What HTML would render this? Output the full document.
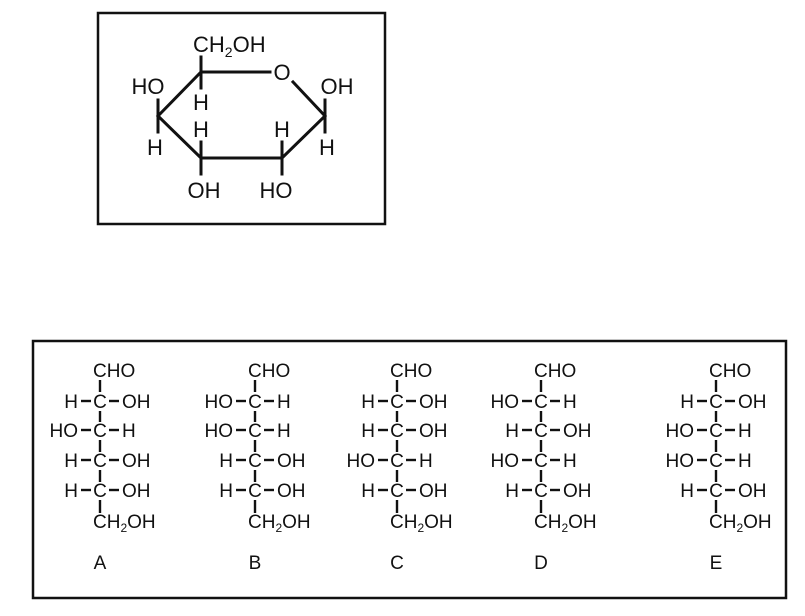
<!DOCTYPE html>
<html><head><meta charset="utf-8"><style>
html,body{margin:0;padding:0;background:#fff;}
svg{display:block;}
text{font-family:"Liberation Sans",Arial,sans-serif;fill:#111;}
</style></head><body>
<svg width="805" height="616" viewBox="0 0 805 616" xmlns="http://www.w3.org/2000/svg">
<rect x="98" y="13" width="287" height="211" fill="none" stroke="#111" stroke-width="2.5"/>
<rect x="33" y="341" width="753" height="257" fill="none" stroke="#111" stroke-width="2.5"/>

<g stroke="#111" stroke-width="3" fill="none" stroke-linecap="square">
<polyline points="270,72 201,72 158,116 201,158 282,158 325,116 293,82"/>
<line x1="201" y1="72" x2="201" y2="57"/>
<line x1="201" y1="72" x2="201" y2="88"/>
<line x1="158" y1="116" x2="158" y2="100"/>
<line x1="158" y1="116" x2="158" y2="132"/>
<line x1="201" y1="158" x2="201" y2="142"/>
<line x1="201" y1="158" x2="201" y2="174"/>
<line x1="282" y1="158" x2="282" y2="142"/>
<line x1="282" y1="158" x2="282" y2="174"/>
<line x1="325" y1="116" x2="325" y2="100"/>
<line x1="325" y1="116" x2="325" y2="132"/>
</g>
<g font-size="22">
<text x="193" y="52">CH<tspan font-size="14" dy="5">2</tspan><tspan dy="-5">OH</tspan></text>
<text x="282" y="80" text-anchor="middle">O</text>
<text x="148" y="94" text-anchor="middle">HO</text>
<text x="201" y="110" text-anchor="middle">H</text>
<text x="155" y="155" text-anchor="middle">H</text>
<text x="201" y="137" text-anchor="middle">H</text>
<text x="282" y="137" text-anchor="middle">H</text>
<text x="204" y="198" text-anchor="middle">OH</text>
<text x="276" y="198" text-anchor="middle">HO</text>
<text x="337" y="94" text-anchor="middle">OH</text>
<text x="327" y="155" text-anchor="middle">H</text>
</g>

<defs>
<g id="vert" stroke="#111" stroke-width="2.4">
<line x1="0" y1="380" x2="0" y2="392"/>
<line x1="0" y1="411" x2="0" y2="422"/>
<line x1="0" y1="440" x2="0" y2="452"/>
<line x1="0" y1="470" x2="0" y2="482"/>
<line x1="0" y1="500" x2="0" y2="513"/>
<line x1="-19" y1="401" x2="-9" y2="401"/><line x1="9" y1="401" x2="19" y2="401"/>
<line x1="-19" y1="430" x2="-9" y2="430"/><line x1="9" y1="430" x2="19" y2="430"/>
<line x1="-19" y1="460" x2="-9" y2="460"/><line x1="9" y1="460" x2="19" y2="460"/>
<line x1="-19" y1="490" x2="-9" y2="490"/><line x1="9" y1="490" x2="19" y2="490"/>
</g>
</defs>

<g font-size="19">
<g transform="translate(100,0)">
<use href="#vert"/>
<text x="-7" y="377">CHO</text>
<text x="0" y="408" text-anchor="middle">C</text><text x="-22" y="408" text-anchor="end">H</text><text x="22" y="408">OH</text>
<text x="0" y="437" text-anchor="middle">C</text><text x="-22" y="437" text-anchor="end">HO</text><text x="22" y="437">H</text>
<text x="0" y="467" text-anchor="middle">C</text><text x="-22" y="467" text-anchor="end">H</text><text x="22" y="467">OH</text>
<text x="0" y="497" text-anchor="middle">C</text><text x="-22" y="497" text-anchor="end">H</text><text x="22" y="497">OH</text>
<text x="-7" y="528">CH<tspan font-size="12" dy="4">2</tspan><tspan dy="-4">OH</tspan></text>
<text x="0" y="569" text-anchor="middle">A</text>
</g>
<g transform="translate(255,0)">
<use href="#vert"/>
<text x="-7" y="377">CHO</text>
<text x="0" y="408" text-anchor="middle">C</text><text x="-22" y="408" text-anchor="end">HO</text><text x="22" y="408">H</text>
<text x="0" y="437" text-anchor="middle">C</text><text x="-22" y="437" text-anchor="end">HO</text><text x="22" y="437">H</text>
<text x="0" y="467" text-anchor="middle">C</text><text x="-22" y="467" text-anchor="end">H</text><text x="22" y="467">OH</text>
<text x="0" y="497" text-anchor="middle">C</text><text x="-22" y="497" text-anchor="end">H</text><text x="22" y="497">OH</text>
<text x="-7" y="528">CH<tspan font-size="12" dy="4">2</tspan><tspan dy="-4">OH</tspan></text>
<text x="0" y="569" text-anchor="middle">B</text>
</g>
<g transform="translate(397,0)">
<use href="#vert"/>
<text x="-7" y="377">CHO</text>
<text x="0" y="408" text-anchor="middle">C</text><text x="-22" y="408" text-anchor="end">H</text><text x="22" y="408">OH</text>
<text x="0" y="437" text-anchor="middle">C</text><text x="-22" y="437" text-anchor="end">H</text><text x="22" y="437">OH</text>
<text x="0" y="467" text-anchor="middle">C</text><text x="-22" y="467" text-anchor="end">HO</text><text x="22" y="467">H</text>
<text x="0" y="497" text-anchor="middle">C</text><text x="-22" y="497" text-anchor="end">H</text><text x="22" y="497">OH</text>
<text x="-7" y="528">CH<tspan font-size="12" dy="4">2</tspan><tspan dy="-4">OH</tspan></text>
<text x="0" y="569" text-anchor="middle">C</text>
</g>
<g transform="translate(541,0)">
<use href="#vert"/>
<text x="-7" y="377">CHO</text>
<text x="0" y="408" text-anchor="middle">C</text><text x="-22" y="408" text-anchor="end">HO</text><text x="22" y="408">H</text>
<text x="0" y="437" text-anchor="middle">C</text><text x="-22" y="437" text-anchor="end">H</text><text x="22" y="437">OH</text>
<text x="0" y="467" text-anchor="middle">C</text><text x="-22" y="467" text-anchor="end">HO</text><text x="22" y="467">H</text>
<text x="0" y="497" text-anchor="middle">C</text><text x="-22" y="497" text-anchor="end">H</text><text x="22" y="497">OH</text>
<text x="-7" y="528">CH<tspan font-size="12" dy="4">2</tspan><tspan dy="-4">OH</tspan></text>
<text x="0" y="569" text-anchor="middle">D</text>
</g>
<g transform="translate(716,0)">
<use href="#vert"/>
<text x="-7" y="377">CHO</text>
<text x="0" y="408" text-anchor="middle">C</text><text x="-22" y="408" text-anchor="end">H</text><text x="22" y="408">OH</text>
<text x="0" y="437" text-anchor="middle">C</text><text x="-22" y="437" text-anchor="end">HO</text><text x="22" y="437">H</text>
<text x="0" y="467" text-anchor="middle">C</text><text x="-22" y="467" text-anchor="end">HO</text><text x="22" y="467">H</text>
<text x="0" y="497" text-anchor="middle">C</text><text x="-22" y="497" text-anchor="end">H</text><text x="22" y="497">OH</text>
<text x="-7" y="528">CH<tspan font-size="12" dy="4">2</tspan><tspan dy="-4">OH</tspan></text>
<text x="0" y="569" text-anchor="middle">E</text>
</g>
</g>
</svg>
</body></html>
